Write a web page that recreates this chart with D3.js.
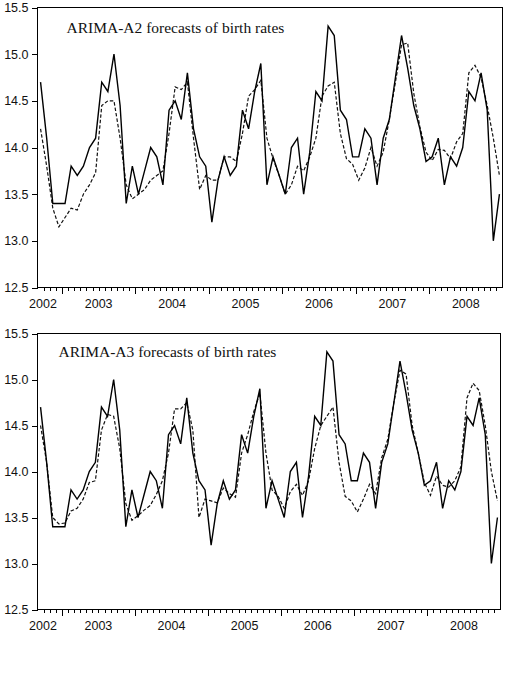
<!DOCTYPE html>
<html>
<head>
<meta charset="utf-8">
<script src="https://cdn.jsdelivr.net/npm/d3@7"></script>
<style>
  body { margin: 0; background: #fff; }
  svg { display: block; }
  .tick text { font-family: "Liberation Sans", Arial, sans-serif; font-size: 12.5px; fill: #111; }
  .year { font-family: "Liberation Sans", Arial, sans-serif; font-size: 12.5px; fill: #111; }
  .title { font-family: "Liberation Serif", "Times New Roman", serif; font-size: 15.5px; fill: #111; }
</style>
</head>
<body>
<svg id="viz"></svg>
<script>
// ----------------------------------------------------------------------------------------------------------------
// DATA

// monthly observations, first one is 2002M09
var startYear = 2002;
var startMonth = 9;

var actualRates = [
  14.7, 14.1, 13.4, 13.4, 13.4, 13.8, 13.7, 13.8, 14.0, 14.1,
  14.7, 14.6, 15.0, 14.45, 13.4, 13.8, 13.5, 13.75, 14.0, 13.9,
  13.6, 14.4, 14.5, 14.3, 14.8, 14.2, 13.9, 13.8, 13.2, 13.65,
  13.9, 13.7, 13.8, 14.4, 14.2, 14.6, 14.9, 13.6, 13.9, 13.7,
  13.5, 14.0, 14.1, 13.5, 13.95, 14.6, 14.5, 15.3, 15.2, 14.4,
  14.3, 13.9, 13.9, 14.2, 14.1, 13.6, 14.1, 14.3, 14.75, 15.2,
  14.85, 14.45, 14.2, 13.85, 13.9, 14.1, 13.6, 13.9, 13.8, 14.0,
  14.6, 14.5, 14.8, 14.4, 13.0, 13.5
];

var forecastA2 = [
  14.2, 13.8, 13.35, 13.15, 13.25, 13.35, 13.33, 13.5, 13.6, 13.73,
  14.45, 14.5, 14.5, 14.1, 13.6, 13.45, 13.5, 13.55, 13.65, 13.7,
  13.75, 14.15, 14.65, 14.62, 14.7, 14.1, 13.55, 13.7, 13.65, 13.65,
  13.9, 13.9, 13.85, 14.15, 14.55, 14.62, 14.72, 14.1, 13.88, 13.7,
  13.5, 13.6, 13.8, 13.75, 13.9, 14.1, 14.55, 14.66, 14.7, 14.15,
  13.88, 13.82, 13.65, 13.78, 14.0, 13.8, 13.95, 14.3, 14.7, 15.1,
  15.12, 14.58, 14.22, 13.95, 13.86, 13.98, 13.97, 13.88, 14.06, 14.15,
  14.8, 14.88, 14.75, 14.45, 14.1, 13.7
];

var forecastA3 = [
  14.5, 14.1, 13.5, 13.43, 13.44, 13.57, 13.6, 13.7, 13.88, 13.9,
  14.45, 14.62, 14.6, 14.25, 13.65, 13.47, 13.52, 13.58, 13.63, 13.75,
  13.9, 14.2, 14.68, 14.68, 14.75, 14.45, 13.5, 13.7, 13.68, 13.66,
  13.82, 13.76, 13.72, 14.2, 14.4, 14.65, 14.85, 14.2, 13.8, 13.73,
  13.6, 13.78, 13.86, 13.74, 13.9, 14.25, 14.5, 14.6, 14.7, 14.1,
  13.73, 13.68, 13.56, 13.7, 13.86, 13.76, 14.15, 14.35, 14.75, 15.1,
  15.06, 14.5, 14.2, 13.88, 13.74, 13.95, 13.85, 13.83, 13.9, 14.05,
  14.8, 14.96, 14.88, 14.5, 14.0, 13.68
];

var yTicks = [12.5, 13.0, 13.5, 14.0, 14.5, 15.0, 15.5];
var yearLabels = [2002, 2003, 2004, 2005, 2006, 2007, 2008];
var titles = ["ARIMA-A2 forecasts of birth rates", "ARIMA-A3 forecasts of birth rates"];


// ----------------------------------------------------------------------------------------------------------------
// INITIAL SETUP

var w = 507;
var h = 675;
var svg = d3.select("#viz").attr("width", w).attr("height", h);
var n = actualRates.length;

var panels = [
  {forecast: forecastA2, title: titles[0], left: 37.5, right: 502.5, top: 7.5, bottom: 287.5, titleX: 66.5, titleY: 33},
  {forecast: forecastA3, title: titles[1], left: 37.5, right: 500.5, top: 333.5, bottom: 609.5, titleX: 58.5, titleY: 356.5}
];


// ----------------------------------------------------------------------------------------------------------------
// CHART

function drawPanel(p) {
  var g = svg.append("g");

  // month boundaries run 0..n, observation i sits in the middle of its month
  var x = d3.scaleLinear().domain([0, n]).range([p.left, p.right]);
  var y = d3.scaleLinear().domain([12.5, 15.5]).range([p.bottom, p.top]);

  // y axis
  g.append("g")
    .attr("transform", "translate(" + p.left + ",0)")
    .call(d3.axisLeft(y).tickValues(yTicks).tickFormat(d3.format(".1f")).tickSize(6).tickPadding(3))
    .call(function(a) { a.select(".domain").remove(); });

  // x axis: short tick every month, long tick at each January
  var bounds = d3.range(1, n);
  var jan = bounds.filter(function(k) { return (startMonth - 1 + k) % 12 === 0; });
  var minor = bounds.filter(function(k) { return jan.indexOf(k) < 0; });

  g.append("g")
    .attr("transform", "translate(0," + p.bottom + ")")
    .call(d3.axisBottom(x).tickValues(minor).tickSize(3).tickFormat(""))
    .call(function(a) { a.select(".domain").remove(); });

  g.append("g")
    .attr("transform", "translate(0," + p.bottom + ")")
    .call(d3.axisBottom(x).tickValues(jan).tickSize(6).tickFormat(""))
    .call(function(a) { a.select(".domain").remove(); });

  g.selectAll(".tick line").attr("stroke", "#000").attr("shape-rendering", "crispEdges");

  // year labels centred on mid year, first one pushed back inside the plot
  g.selectAll(".year")
    .data(yearLabels)
    .enter()
    .append("text")
    .attr("class", "year")
    .attr("text-anchor", "middle")
    .attr("x", function(d) {
      var k0 = (d - startYear) * 12 - (startMonth - 1);
      return Math.max(x(k0 + 6), p.left + 5.5);
    })
    .attr("y", p.bottom + 20)
    .text(function(d) { return d; });

  // frame
  g.append("rect")
    .attr("x", p.left)
    .attr("y", p.top)
    .attr("width", p.right - p.left)
    .attr("height", p.bottom - p.top)
    .attr("fill", "none")
    .attr("stroke", "#000")
    .attr("stroke-width", 1)
    .attr("shape-rendering", "crispEdges");

  var line = d3.line()
    .x(function(d, i) { return x(i + 0.5); })
    .y(function(d) { return y(d); });

  // forecast, dashed
  g.append("path")
    .datum(p.forecast)
    .attr("d", line)
    .attr("fill", "none")
    .attr("stroke", "#111")
    .attr("stroke-width", 1.2)
    .attr("stroke-dasharray", "3.5,2");

  // actual, solid
  g.append("path")
    .datum(actualRates)
    .attr("d", line)
    .attr("fill", "none")
    .attr("stroke", "#000")
    .attr("stroke-width", 1.4)
    .attr("stroke-linejoin", "miter");

  g.append("text")
    .attr("class", "title")
    .attr("x", p.titleX)
    .attr("y", p.titleY)
    .text(p.title);
}

panels.forEach(drawPanel);

</script>
</body>
</html>
